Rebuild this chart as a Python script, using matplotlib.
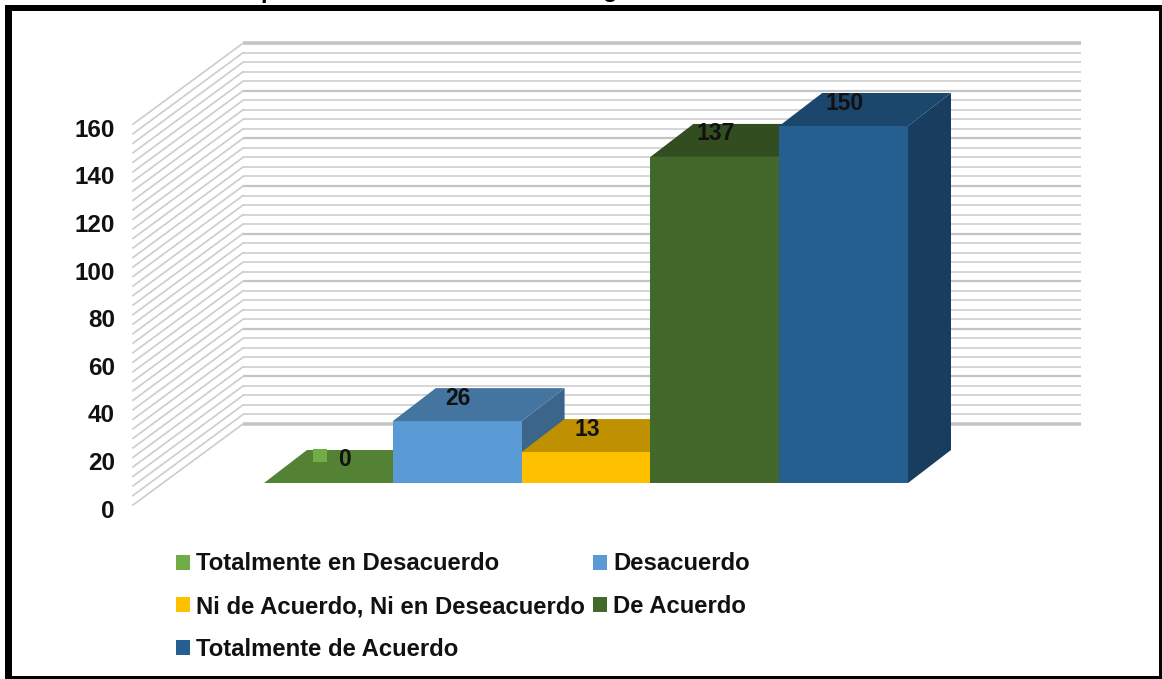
import matplotlib
matplotlib.use('Agg')
import matplotlib.pyplot as plt
from matplotlib.patches import Polygon, Patch, Rectangle
import numpy as np

plt.rcParams['font.family'] = ['Liberation Sans', 'DejaVu Sans']
plt.rcParams['font.weight'] = 'bold'

categorias = ['Totalmente en Desacuerdo', 'Desacuerdo', 'Ni de Acuerdo, Ni en Deseacuerdo',
              'De Acuerdo', 'Totalmente de Acuerdo']
valores = [0, 26, 13, 137, 150]
colores = ['#70AD47', '#5B9BD5', '#FFC000', '#43682B', '#255E91']
ticks = [0, 20, 40, 60, 80, 100, 120, 140, 160]

W, H = 1162, 679
px_x = 128.8        # pixeles por barra
px_y = 2.38         # pixeles por unidad
x0, y0 = 264, 483   # origen de la primera barra en pixeles

# profundidad de las barras
dx = 43 / px_x
dy = 33 / px_y

fig = plt.figure(figsize=(W / 100, H / 100), dpi=100, facecolor='white')
ax = fig.add_axes([0, 0, 1, 1])
ax.set_xlim(-x0 / px_x, (W - x0) / px_x)
ax.set_ylim(-(H - y0) / px_y, y0 / px_y)
ax.axis('off')


def oscuro(color, f):
    r, g, b = matplotlib.colors.to_rgb(color)
    return (r * f, g * f, b * f)


# paredes con la rejilla
fx, fy = -131 / px_x, -22 / px_y     # esquina frontal
bx, by = -21 / px_x, 59 / px_y       # esquina del fondo
ex = (1081 - x0) / px_x
for v in np.arange(0, 161, 4):
    borde = v == 0 or v == 160
    mayor = v % 20 == 0
    c = '#C4C4C4' if mayor else '#D2D2D2'
    lw = 2.6 if borde else (1.6 if mayor else 1.3)
    ax.plot([bx, ex], [by + v, by + v], color=c, lw=lw, solid_capstyle='butt', zorder=1)
    ax.plot([fx, bx], [fy + v, by + v], color='#CCCCCC', lw=1.2, zorder=1)

# barras, de izquierda a derecha
for i, (v, c) in enumerate(zip(valores, colores)):
    z = 3 + i
    if v > 0:
        ax.add_patch(Polygon([(i + 1, 0), (i + 1 + dx, dy), (i + 1 + dx, v + dy), (i + 1, v)],
                             fc=oscuro(c, 0.65), ec='none', zorder=z))
        ax.add_patch(Rectangle((i, 0), 1, v, fc=c, ec='none', zorder=z))
    ax.add_patch(Polygon([(i, v), (i + dx, v + dy), (i + 1 + dx, v + dy), (i + 1, v)],
                         fc=oscuro(c, 0.75), ec='none', zorder=z))

# marca de la etiqueta del valor cero
ax.add_patch(Rectangle((49 / px_x, 21 / px_y), 14 / px_x, 13 / px_y,
                       fc=colores[0], ec='none', zorder=3.5))

for i, v in enumerate(valores):
    xt = i + 0.5 + (16 / px_x if v == 0 else 1 / px_x)
    ax.text(xt, v + 23 / px_y, str(v), ha='center', va='center', fontsize=16.5, color='#111111', zorder=20)

for t in ticks:
    ax.text((115 - x0) / px_x, fy + t - 6 / px_y, str(t), ha='right', va='center',
            fontsize=17.5, color='#111111')

# leyenda: ncol llena por columnas
orden = [0, 2, 4, 1, 3]
handles = [Patch(fc=colores[i], ec='none', label=categorias[i]) for i in orden]
leg = ax.legend(handles=handles, ncol=2, frameon=False, fontsize=17.2,
                loc='upper left', bbox_to_anchor=(176 / W, 1 - 552.5 / H),
                handlelength=0.59, handleheight=0.59, handletextpad=0.25,
                labelspacing=0.82, columnspacing=0.33, borderpad=0, borderaxespad=0)
for txt in leg.get_texts():
    txt.set_color('#111111')

# titulo cortado por el borde superior de la imagen
ax.text((268 - x0) / px_x, (y0 + 2) / px_y, 'p', ha='center', va='baseline', fontsize=17, color='black')
ax.text((610 - x0) / px_x, (y0 + 3) / px_y, 'g', ha='center', va='baseline', fontsize=17, color='black')

# marco negro
for (x, y, w, h) in [(5, 5, 1157, 6), (5, 5, 7, 674), (1159, 5, 3, 674), (5, 676, 1157, 3)]:
    fig.add_artist(Rectangle((x / W, 1 - (y + h) / H), w / W, h / H, fc='black', ec='none',
                             transform=fig.transFigure))

fig.savefig('out.png', dpi=100)
